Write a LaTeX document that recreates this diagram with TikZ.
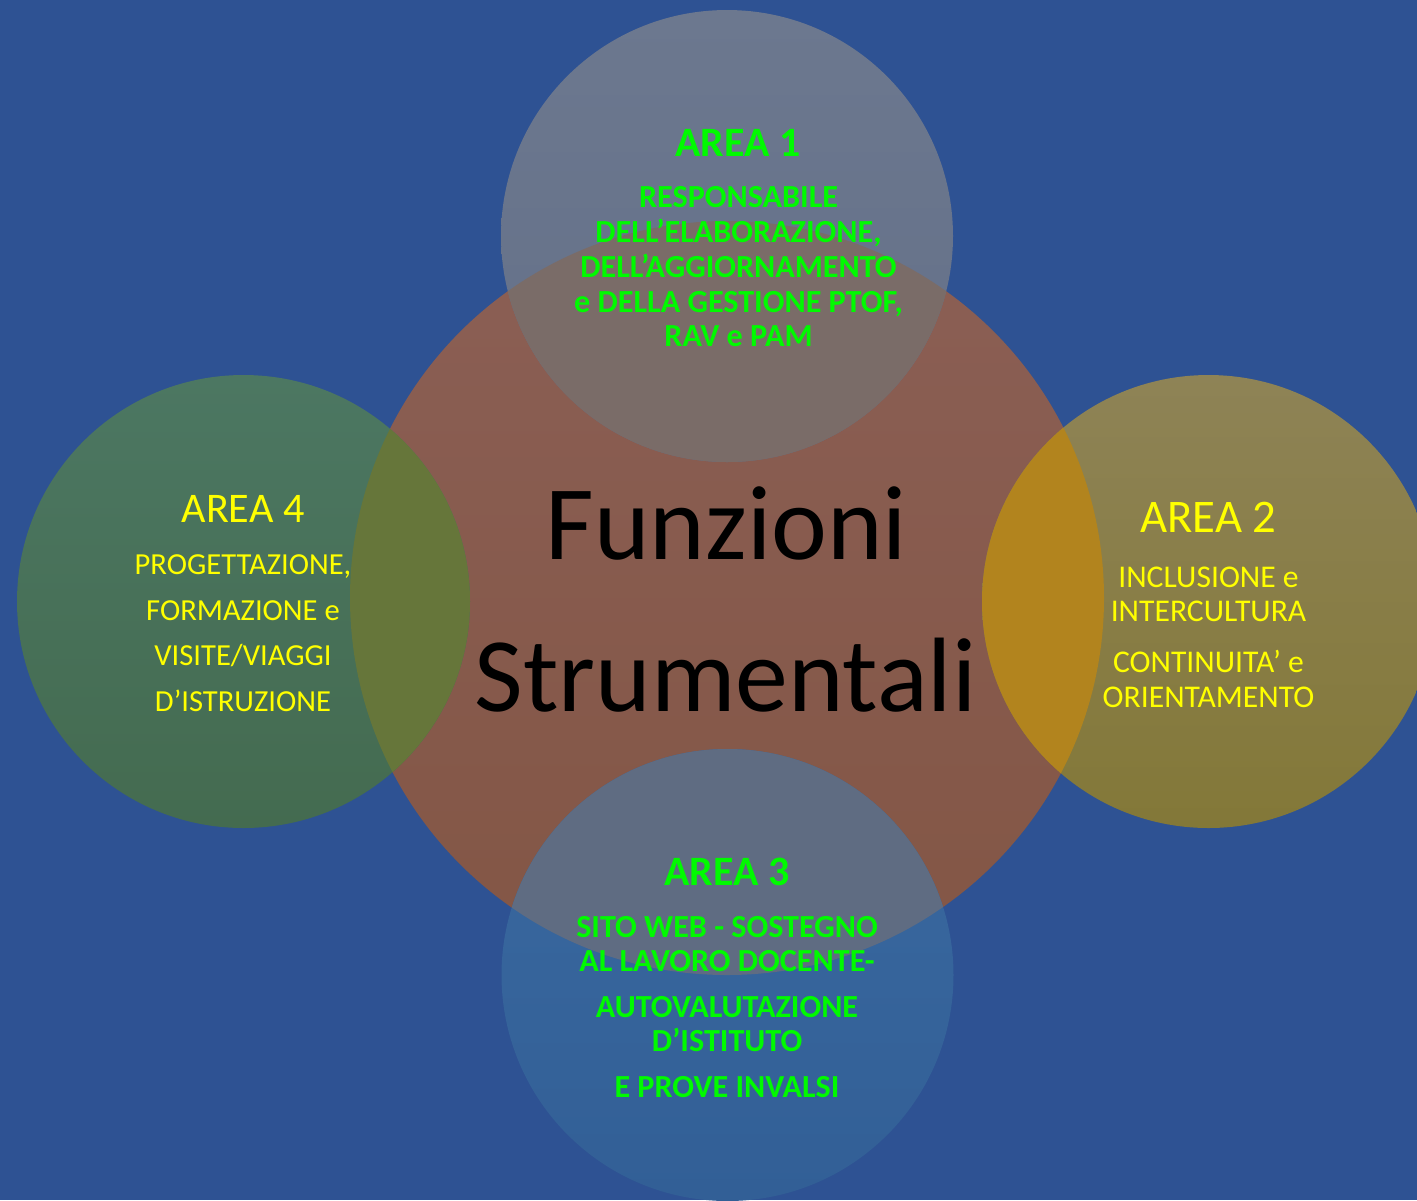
\documentclass[tikz,border=0pt]{standalone}
\usepackage{fontspec}
\setmainfont{Carlito}
\usetikzlibrary{positioning}

\definecolor{bgblue}{RGB}{46,82,147}
\definecolor{brownT}{RGB}{139,95,85}
\definecolor{brownB}{RGB}{131,86,69}
\definecolor{grayT}{RGB}{108,120,143}
\definecolor{grayB}{RGB}{100,112,136}
\definecolor{grayX}{RGB}{122,108,104}
\definecolor{goldT}{RGB}{142,131,86}
\definecolor{goldB}{RGB}{131,120,56}
\definecolor{goldX}{RGB}{178,132,30}
\definecolor{greenT}{RGB}{76,119,98}
\definecolor{greenB}{RGB}{68,107,80}
\definecolor{greenX}{RGB}{102,118,58}
\definecolor{blueT}{RGB}{58,105,160}
\definecolor{blueB}{RGB}{50,95,150}
\definecolor{blueX}{RGB}{95,108,130}
\definecolor{fsgreen}{RGB}{0,250,0}
\definecolor{fsyellow}{RGB}{255,255,0}

\begin{document}
\begin{tikzpicture}[x=1cm,y=-1cm,
  venn/.style={circle,inner sep=0pt,minimum size=#1},
  gtitle/.style={anchor=base,inner sep=0pt,text=fsgreen,font=\bfseries\fontsize{11.9}{14}\selectfont},
  gline/.style={anchor=base,inner sep=0pt,text=fsgreen,font=\bfseries\fontsize{9.15}{10.5}\selectfont},
  ytitle/.style={anchor=base,inner sep=0pt,text=fsyellow,font=\fontsize{#1}{14}\selectfont},
  yline/.style={anchor=base,inner sep=0pt,text=fsyellow,font=\fontsize{#1}{10.5}\selectfont}]
\useasboundingbox (0,0) rectangle (14.17,12);
\fill[bgblue] (0,0) rectangle (14.17,12);
% circles
\node[venn=7.54cm,top color=brownT,bottom color=brownB](funz) at (7.27,5.98){};
\node[venn=4.52cm,top color=grayT,bottom color=grayB](area1) at (7.27,2.36){};
\node[venn=4.53cm,top color=goldT,bottom color=goldB](area2) at (12.085,6.015){};
\node[venn=4.52cm,top color=blueT,bottom color=blueB](area3) at (7.275,9.75){};
\node[venn=4.53cm,top color=greenT,bottom color=greenB](area4) at (2.435,6.015){};
% overlaps with the big circle
\begin{scope}
\clip (funz.center) circle[radius=3.77cm];
\fill[grayX] (area1.center) circle[radius=2.26cm];
\fill[goldX] (area2.center) circle[radius=2.265cm];
\fill[blueX] (area3.center) circle[radius=2.26cm];
\fill[greenX] (area4.center) circle[radius=2.265cm];
\end{scope}
% centre
\node[anchor=base,inner sep=0pt,font=\fontsize{30.1}{36}\selectfont](fz) at (7.265,5.59){Funzioni};
\node[anchor=base,inner sep=0pt,font=\fontsize{30.1}{36}\selectfont](st) at (7.255,7.11){Strumentali};
% AREA 1
\node[gtitle](t1) at (7.38,1.56){AREA 1};
\foreach \y/\t [count=\i] in {2.07/RESPONSABILE,2.42/{DELL’ELABORAZIONE,},2.77/DELL’AGGIORNAMENTO,3.12/{e DELLA GESTIONE PTOF,},3.46/RAV e PAM}
  \node[gline](a1l\i) at (7.385,\y){\t};
% AREA 2
\node[ytitle=13.3](t2) at (12.085,5.32){AREA 2};
\foreach \y/\t [count=\i] in {5.87/INCLUSIONE e,6.21/INTERCULTURA,6.72/CONTINUITA’ e,7.07/ORIENTAMENTO}
  \node[yline=9](a2l\i) at (12.085,\y){\t};
% AREA 3
\node[gtitle](t3) at (7.27,8.85){AREA 3};
\foreach \y/\t [count=\i] in {9.37/SITO WEB - SOSTEGNO,9.71/AL LAVORO DOCENTE-,10.17/AUTOVALUTAZIONE,10.51/D’ISTITUTO,10.97/E PROVE INVALSI}
  \node[gline](a3l\i) at (7.27,\y){\t};
% AREA 4
\node[ytitle=12](t4) at (2.43,5.22){AREA 4};
\foreach \y/\t [count=\i] in {5.74/{PROGETTAZIONE,},6.20/FORMAZIONE e,6.65/{VISITE/VIAGGI},7.11/D’ISTRUZIONE}
  \node[yline=8.7](a4l\i) at (2.43,\y){\t};
\end{tikzpicture}
\end{document}
